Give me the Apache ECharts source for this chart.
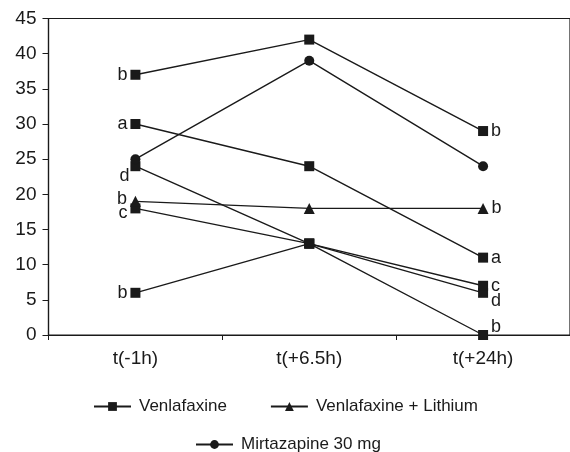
<!DOCTYPE html>
<html>
<head>
<meta charset="utf-8">
<script src="https://cdn.jsdelivr.net/npm/echarts@6/dist/echarts.min.js"></script>
<style>
html,body{margin:0;padding:0;background:#fff;}
#c{width:570px;height:452px;}
</style>
</head>
<body>
<div id="c"></div>
<script>
// ---- data ----
const categories = ['t(-1h)', 't(+6.5h)', 't(+24h)'];
const yTicks = [0, 5, 10, 15, 20, 25, 30, 35, 40, 45];

const venlafaxine1 = [37, 42, 29];
const venlafaxine2 = [30, 24, 11];
const venlafaxine3 = [24, 13, 6];
const venlafaxine4 = [18, 13, 7];
const venlafaxine5 = [6, 13, 0];
const venlaLithium = [19, 18, 18];
const mirtazapine = [25, 39, 24];

const letters1 = ['b', '', 'b'];
const letters2 = ['a', '', 'a'];
const letters3 = ['d', '', 'd'];
const letters4 = ['c', '', 'c'];
const letters5 = ['b', '', 'b'];
const lettersLi = ['b', '', 'b'];
const lettersMi = ['', '', ''];

const FONT = '"Liberation Sans", Arial, sans-serif';
const INK = '#1a1a1a';

// per-series label nudges (style only)
const nudges = {
  v3: [[2, 10], null, [0, 8]],
  v4: [[0, 5], null, [0, 0]],
  v5: [[0, 0], null, [0, -8]],
  li: [[0, -2], null, [0, 0]]
};

function mkData(values, letters, nudge) {
  return values.map((v, i) => {
    const lt = letters[i];
    const item = { value: v };
    if (lt) {
      item.label = {
        show: true,
        formatter: lt,
        position: i === 0 ? 'left' : 'right',
        distance: 3,
        offset: (nudge && nudge[i]) || [0, 0],
        color: INK,
        fontSize: 18,
        fontFamily: FONT
      };
    }
    return item;
  });
}

function mkSeries(name, values, letters, symbol, size, nudge) {
  return {
    name: name,
    type: 'line',
    data: mkData(values, letters, nudge),
    symbol: symbol,
    symbolSize: size,
    showSymbol: true,
    lineStyle: { color: INK, width: 1.4 },
    itemStyle: { color: INK },
    label: { show: false },
    emphasis: { disabled: true },
    animation: false
  };
}

const series = [
  mkSeries('Venlafaxine', venlafaxine1, letters1, 'rect', 10),
  mkSeries('Venlafaxine', venlafaxine2, letters2, 'rect', 10),
  mkSeries('Venlafaxine', venlafaxine3, letters3, 'rect', 10, nudges.v3),
  mkSeries('Venlafaxine', venlafaxine4, letters4, 'rect', 10, nudges.v4),
  mkSeries('Venlafaxine', venlafaxine5, letters5, 'rect', 10, nudges.v5),
  mkSeries('Venlafaxine + Lithium', venlaLithium, lettersLi, 'triangle', 11, nudges.li),
  mkSeries('Mirtazapine 30 mg', mirtazapine, lettersMi, 'circle', 10)
];

const chart = echarts.init(document.getElementById('c'), null, { renderer: 'canvas' });
const legendText = { color: INK, fontSize: 17, fontFamily: FONT, padding: [0, 0, 0, 3] };
chart.setOption({
  animation: false,
  backgroundColor: '#fff',
  grid: {
    left: 48.5, top: 18.5, right: -4.7, bottom: 117,
    show: true, borderColor: INK, borderWidth: 1.2, backgroundColor: 'transparent'
  },
  legend: [
    {
      data: ['Venlafaxine', 'Venlafaxine + Lithium'],
      left: 88, top: 393,
      itemWidth: 37, itemHeight: 11, itemGap: 43,
      textStyle: legendText
    },
    {
      data: ['Mirtazapine 30 mg'],
      left: 190, top: 431,
      itemWidth: 37, itemHeight: 11,
      textStyle: legendText
    }
  ],
  xAxis: {
    type: 'category',
    data: categories,
    boundaryGap: true,
    axisLine: { lineStyle: { color: INK, width: 1.2 } },
    axisTick: { show: true, inside: false, length: 5, lineStyle: { color: INK } },
    axisLabel: { color: INK, fontSize: 19, fontFamily: FONT, margin: 14 },
    splitLine: { show: false }
  },
  yAxis: {
    type: 'value',
    min: yTicks[0],
    max: yTicks[yTicks.length - 1],
    interval: 5,
    axisLine: { show: true, lineStyle: { color: INK, width: 1.2 } },
    axisTick: { show: true, inside: false, length: 6, lineStyle: { color: INK } },
    axisLabel: { color: INK, fontSize: 19, fontFamily: FONT, margin: 12 },
    splitLine: { show: false }
  },
  series: series
});
</script>
</body>
</html>
